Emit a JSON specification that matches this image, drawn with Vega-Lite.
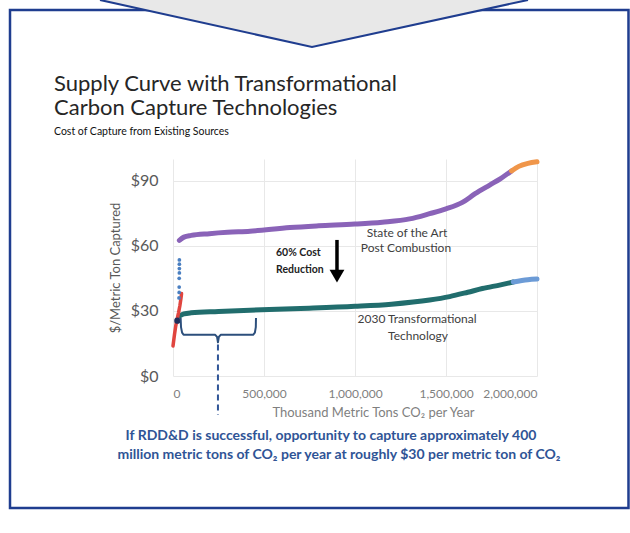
{
  "$schema": "https://vega.github.io/schema/vega-lite/v6.json",
  "width": 364,
  "height": 217,
  "autosize": {"type": "none"},
  "padding": {"left": 173, "top": 159, "right": 93, "bottom": 157},
  "background": "white",
  "config": {"view": {"stroke": null}, "font": "Lato"},
  "datasets": {
    "frame": [{"x": -895600, "x2": 2502700, "y": -60.8, "y2": 168.7}],
    "chevron": [
      {"x": -401100, "y": 173.3, "y2": 173.3},
      {"x": 763736, "y": 151.6, "y2": 173.3},
      {"x": 1950549, "y": 173.3, "y2": 173.3}
    ],
    "curves": [
      {"series": "purple", "x": 35000, "y": 62.5},
      {"series": "purple", "x": 60000, "y": 64},
      {"series": "purple", "x": 100000, "y": 64.8},
      {"series": "purple", "x": 200000, "y": 65.6},
      {"series": "purple", "x": 300000, "y": 66.2},
      {"series": "purple", "x": 423000, "y": 66.7},
      {"series": "purple", "x": 643000, "y": 68.4},
      {"series": "purple", "x": 800000, "y": 69.2},
      {"series": "purple", "x": 1000000, "y": 70},
      {"series": "purple", "x": 1150000, "y": 70.9},
      {"series": "purple", "x": 1300000, "y": 72.4},
      {"series": "purple", "x": 1410000, "y": 74.8},
      {"series": "purple", "x": 1500000, "y": 77},
      {"series": "purple", "x": 1590000, "y": 80},
      {"series": "purple", "x": 1660000, "y": 84},
      {"series": "purple", "x": 1740000, "y": 88},
      {"series": "purple", "x": 1800000, "y": 91},
      {"series": "purple", "x": 1860000, "y": 94.5},
      {"series": "orange", "x": 1860000, "y": 94.5},
      {"series": "orange", "x": 1900000, "y": 96.6},
      {"series": "orange", "x": 1950000, "y": 98},
      {"series": "orange", "x": 2000000, "y": 98.7},
      {"series": "green", "x": 38000, "y": 27.8},
      {"series": "green", "x": 60000, "y": 28.6},
      {"series": "green", "x": 100000, "y": 29.1},
      {"series": "green", "x": 250000, "y": 29.7},
      {"series": "green", "x": 423000, "y": 30.3},
      {"series": "green", "x": 700000, "y": 31.1},
      {"series": "green", "x": 1000000, "y": 32.1},
      {"series": "green", "x": 1200000, "y": 33.1},
      {"series": "green", "x": 1410000, "y": 35},
      {"series": "green", "x": 1520000, "y": 36.6},
      {"series": "green", "x": 1620000, "y": 38.6},
      {"series": "green", "x": 1700000, "y": 40.3},
      {"series": "green", "x": 1800000, "y": 42},
      {"series": "green", "x": 1870000, "y": 43.3},
      {"series": "lightblue", "x": 1870000, "y": 43.3},
      {"series": "lightblue", "x": 1950000, "y": 44.4},
      {"series": "lightblue", "x": 2000000, "y": 44.7},
      {"series": "red", "x": 0, "y": 13.8},
      {"series": "red", "x": 8000, "y": 19},
      {"series": "red", "x": 15000, "y": 23},
      {"series": "red", "x": 22000, "y": 26},
      {"series": "red", "x": 30000, "y": 29},
      {"series": "red", "x": 38000, "y": 32.5},
      {"series": "red", "x": 44000, "y": 36},
      {"series": "red", "x": 47000, "y": 38}
    ],
    "bluedots": [
      {"x": 35000, "y": 53.5},
      {"x": 35000, "y": 51.5},
      {"x": 35000, "y": 49.5},
      {"x": 35000, "y": 47.5},
      {"x": 34000, "y": 45},
      {"x": 34000, "y": 41},
      {"x": 34000, "y": 38.5},
      {"x": 33000, "y": 36}
    ],
    "navydot": [{"x": 24000, "y": 25.5}],
    "brace": [
      {"o": 1, "x": 42000, "y": 26.7},
      {"o": 2, "x": 44000, "y": 22.5},
      {"o": 3, "x": 50000, "y": 20},
      {"o": 4, "x": 58000, "y": 19},
      {"o": 5, "x": 232000, "y": 19},
      {"o": 6, "x": 242000, "y": 18},
      {"o": 7, "x": 247000, "y": 15.5},
      {"o": 8, "x": 252000, "y": 18},
      {"o": 9, "x": 262000, "y": 19},
      {"o": 10, "x": 440000, "y": 19},
      {"o": 11, "x": 450000, "y": 20},
      {"o": 12, "x": 455000, "y": 22.5},
      {"o": 13, "x": 456000, "y": 26.7}
    ],
    "dash": [{"x": 247000, "y": 14.5, "y2": -18}],
    "shaft": [{"x": 901000, "y": 62.7, "y2": 47.5}],
    "head": [{"x": 901000, "y": 46}],
    "titles": [
      {"x": -653846, "y": 131.5, "text": "Supply Curve with Transformational"},
      {"x": -653846, "y": 120.3, "text": "Carbon Capture Technologies"}
    ],
    "subtitle": [{"x": -653846, "y": 111.1, "text": "Cost of Capture from Existing Sources"}],
    "reduction": [
      {"x": 566000, "y": 56.7, "text": "60% Cost"},
      {"x": 566000, "y": 49, "text": "Reduction"}
    ],
    "curvelabels": [
      {"x": 1286000, "y": 65.9, "text": "State of the Art"},
      {"x": 1280000, "y": 59, "text": "Post Combustion"},
      {"x": 1341000, "y": 26.3, "text": "2030 Transformational"},
      {"x": 1346000, "y": 18.4, "text": "Technology"}
    ],
    "note": [
      {"x": 868000, "y": -27.6, "text": "If RDD&D is successful, opportunity to capture approximately 400"},
      {"x": 912000, "y": -36.4, "text": "million metric tons of CO₂ per year at roughly $30 per metric ton of CO₂"}
    ]
  },
  "encoding": {
    "x": {
      "field": "x", "type": "quantitative",
      "scale": {"domain": [0, 2000000], "nice": false, "zero": false},
      "axis": {
        "values": [0, 500000, 1000000, 1500000, 2000000],
        "format": ",.0f",
        "title": "Thousand Metric Tons CO₂ per Year",
        "labelFontSize": 12, "labelColor": "#7f7f7f", "labelPadding": 12,
        "titleFontSize": 13, "titleColor": "#7f7f7f", "titleFontWeight": "normal",
        "titlePadding": 7, "titleX": 200,
        "domain": false, "ticks": false, "grid": true, "gridColor": "#e8e8e8"
      }
    },
    "y": {
      "field": "y", "type": "quantitative",
      "scale": {"domain": [0, 100], "nice": false, "zero": false},
      "axis": {
        "values": [0, 30, 60, 90],
        "labelExpr": "'$' + datum.value",
        "title": "$/Metric Ton Captured",
        "labelFontSize": 16, "labelColor": "#595959", "labelPadding": 15,
        "titleFontSize": 13, "titleColor": "#595959", "titleFontWeight": "normal",
        "titlePadding": 8,
        "domain": false, "ticks": false, "grid": true, "gridColor": "#e8e8e8"
      }
    }
  },
  "layer": [
    {
      "data": {"name": "frame"},
      "mark": {"type": "rect", "filled": false, "stroke": "#1f3d8f", "strokeWidth": 2.5},
      "encoding": {"x2": {"field": "x2"}, "y2": {"field": "y2"}}
    },
    {
      "data": {"name": "chevron"},
      "mark": {"type": "area", "color": "#e8e8e8"},
      "encoding": {"y2": {"field": "y2"}}
    },
    {
      "data": {"name": "chevron"},
      "mark": {"type": "line", "color": "#1f3d8f", "strokeWidth": 2},
      "encoding": {}
    },
    {
      "data": {"name": "curves"},
      "transform": [{"filter": "datum.series !== 'red'"}],
      "mark": {"type": "line", "strokeWidth": 5, "strokeCap": "round", "strokeJoin": "round", "interpolate": "monotone"},
      "encoding": {
        "color": {
          "field": "series", "type": "nominal",
          "scale": {
            "domain": ["purple", "orange", "green", "lightblue", "red"],
            "range": ["#8a63b8", "#f0964a", "#216d6d", "#6c9bd6", "#e0453f"]
          },
          "legend": null
        }
      }
    },
    {
      "data": {"name": "curves"},
      "transform": [{"filter": "datum.series === 'red'"}],
      "mark": {"type": "line", "strokeWidth": 3.5, "strokeCap": "round", "color": "#e0453f"}
    },
    {
      "data": {"name": "bluedots"},
      "mark": {"type": "circle", "color": "#4a7fc1", "size": 14, "opacity": 1}
    },
    {
      "data": {"name": "navydot"},
      "mark": {"type": "circle", "color": "#1f2f5c", "size": 40, "opacity": 1}
    },
    {
      "data": {"name": "brace"},
      "mark": {"type": "line", "color": "#2c4f7c", "strokeWidth": 2, "strokeJoin": "round"},
      "encoding": {"order": {"field": "o", "type": "quantitative"}}
    },
    {
      "data": {"name": "dash"},
      "mark": {"type": "rule", "color": "#2f5496", "strokeWidth": 2, "strokeDash": [6, 4]},
      "encoding": {"y2": {"field": "y2"}}
    },
    {
      "data": {"name": "shaft"},
      "mark": {"type": "rule", "color": "black", "strokeWidth": 3.5},
      "encoding": {"y2": {"field": "y2"}}
    },
    {
      "data": {"name": "head"},
      "mark": {"type": "point", "shape": "triangle-down", "filled": true, "color": "black", "size": 220, "opacity": 1}
    },
    {
      "data": {"name": "titles"},
      "mark": {"type": "text", "align": "left", "baseline": "alphabetic", "fontSize": 22, "color": "#262626"},
      "encoding": {"text": {"field": "text"}}
    },
    {
      "data": {"name": "subtitle"},
      "mark": {"type": "text", "align": "left", "baseline": "alphabetic", "fontSize": 10.5, "color": "#111111"},
      "encoding": {"text": {"field": "text"}}
    },
    {
      "data": {"name": "reduction"},
      "mark": {"type": "text", "align": "left", "baseline": "middle", "fontSize": 10.5, "fontWeight": "bold", "color": "#222222"},
      "encoding": {"text": {"field": "text"}}
    },
    {
      "data": {"name": "curvelabels"},
      "mark": {"type": "text", "align": "center", "baseline": "middle", "fontSize": 12, "color": "#404040"},
      "encoding": {"text": {"field": "text"}}
    },
    {
      "data": {"name": "note"},
      "mark": {"type": "text", "align": "center", "baseline": "middle", "fontSize": 14, "fontWeight": "bold", "color": "#2f5496"},
      "encoding": {"text": {"field": "text"}}
    }
  ]
}
